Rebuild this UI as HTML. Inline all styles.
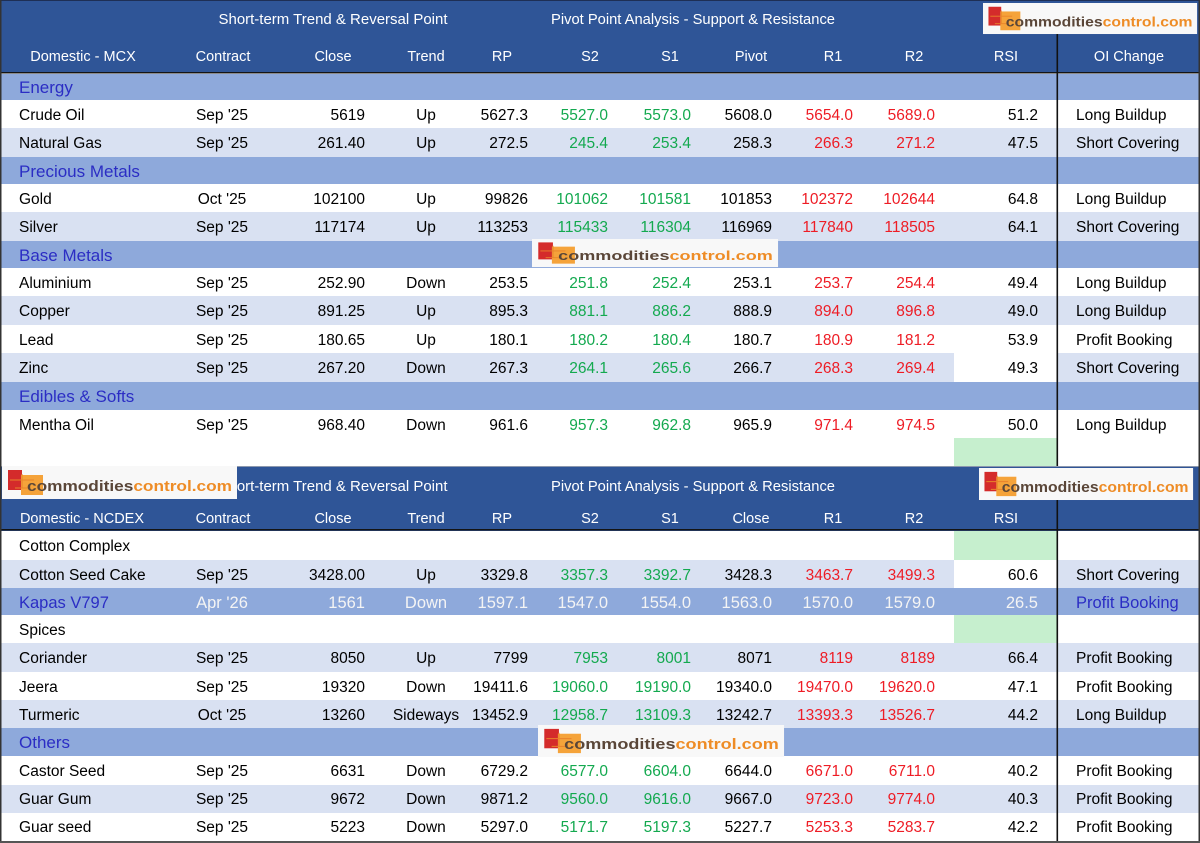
<!DOCTYPE html>
<html><head><meta charset="utf-8"><style>
html,body{margin:0;padding:0;background:#fff;}
svg{display:block;}
text{font-family:"Liberation Sans",sans-serif;font-size:15.5px;fill:#000;}
.m{text-anchor:middle}.e{text-anchor:end}
.g{fill:#13A94F}.rd{fill:#EE1C25}
.h{fill:#fff;font-size:14.5px}
.s{fill:#2B2DC4;font-size:17px}
.k{font-size:16.5px;fill:#F4F4F4}
.kb{font-size:16.5px;fill:#2B2DC4}
.lg{font-weight:bold;font-size:15px}
</style></head><body>
<svg width="1200" height="843" viewBox="0 0 1200 843" xmlns="http://www.w3.org/2000/svg">
<!-- backgrounds -->
<rect x="0" y="0" width="1200" height="843" fill="#fff"/>
<rect x="0" y="0" width="1200" height="73" fill="#2F5597"/>
<rect x="0" y="0" width="1200" height="1" fill="#1E2F55"/>
<rect x="0" y="72" width="1200" height="1.5" fill="#141414"/>
<rect x="0" y="74" width="1200" height="26" fill="#8EA9DB"/>
<rect x="0" y="128" width="1200" height="29" fill="#D9E1F2"/>
<rect x="0" y="157" width="1200" height="27" fill="#8EA9DB"/>
<rect x="0" y="212" width="1200" height="29" fill="#D9E1F2"/>
<rect x="0" y="241" width="1200" height="27" fill="#8EA9DB"/>
<rect x="0" y="296" width="1200" height="29" fill="#D9E1F2"/>
<rect x="0" y="353" width="1200" height="29" fill="#D9E1F2"/>
<rect x="954" y="353" width="103" height="29" fill="#fff"/>
<rect x="0" y="382" width="1200" height="28" fill="#8EA9DB"/>
<rect x="954" y="438" width="103" height="28" fill="#C6EFCE"/>
<rect x="0" y="466" width="1200" height="65" fill="#2F5597"/>
<rect x="0" y="466" width="1200" height="1" fill="#8C98AE"/>
<rect x="0" y="529" width="1200" height="1.5" fill="#141414"/>
<rect x="954" y="531" width="103" height="29" fill="#C6EFCE"/>
<rect x="0" y="560" width="1200" height="28" fill="#D9E1F2"/>
<rect x="954" y="560" width="103" height="28" fill="#fff"/>
<rect x="0" y="588" width="1200" height="27" fill="#8EA9DB"/>
<rect x="954" y="615" width="103" height="28" fill="#C6EFCE"/>
<rect x="0" y="643" width="1200" height="29" fill="#D9E1F2"/>
<rect x="0" y="700" width="1200" height="28" fill="#D9E1F2"/>
<rect x="0" y="728" width="1200" height="28" fill="#8EA9DB"/>
<rect x="0" y="785" width="1200" height="28" fill="#D9E1F2"/>
<!-- borders -->
<rect x="0" y="0" width="1.5" height="843" fill="#333"/>
<rect x="1198.5" y="0" width="1.5" height="843" fill="#333"/>
<rect x="0" y="841" width="1200" height="2" fill="#555"/>
<rect x="1056.5" y="34" width="1.6" height="432" fill="#111"/>
<rect x="1056.5" y="500" width="1.6" height="341" fill="#111"/>

<!-- header 1 -->
<text class="h m" x="333" y="24" textLength="229" lengthAdjust="spacingAndGlyphs">Short-term Trend &amp; Reversal Point</text>
<text class="h m" x="693" y="24" textLength="284" lengthAdjust="spacingAndGlyphs">Pivot Point Analysis - Support &amp; Resistance</text>
<text class="h m" x="83" y="61">Domestic - MCX</text>
<text class="h m" x="223" y="61">Contract</text>
<text class="h m" x="333" y="61">Close</text>
<text class="h m" x="426" y="61">Trend</text>
<text class="h m" x="502" y="61">RP</text>
<text class="h m" x="590" y="61">S2</text>
<text class="h m" x="670" y="61">S1</text>
<text class="h m" x="751" y="61">Pivot</text>
<text class="h m" x="833" y="61">R1</text>
<text class="h m" x="914" y="61">R2</text>
<text class="h m" x="1006" y="61">RSI</text>
<text class="h m" x="1129" y="61">OI Change</text>

<!-- Energy -->
<text class="s" x="19" y="93">Energy</text>
<text x="19" y="120">Crude Oil</text><text class="m" x="222" y="120">Sep '25</text><text class="e" x="365" y="120">5619</text><text class="m" x="426" y="120">Up</text><text class="e" x="528" y="120">5627.3</text><text class="e g" x="608" y="120">5527.0</text><text class="e g" x="691" y="120">5573.0</text><text class="e" x="772" y="120">5608.0</text><text class="e rd" x="853" y="120">5654.0</text><text class="e rd" x="935" y="120">5689.0</text><text class="e" x="1038" y="120">51.2</text><text x="1076" y="120">Long Buildup</text>
<text x="19" y="148">Natural Gas</text><text class="m" x="222" y="148">Sep '25</text><text class="e" x="365" y="148">261.40</text><text class="m" x="426" y="148">Up</text><text class="e" x="528" y="148">272.5</text><text class="e g" x="608" y="148">245.4</text><text class="e g" x="691" y="148">253.4</text><text class="e" x="772" y="148">258.3</text><text class="e rd" x="853" y="148">266.3</text><text class="e rd" x="935" y="148">271.2</text><text class="e" x="1038" y="148">47.5</text><text x="1076" y="148">Short Covering</text>
<!-- Precious -->
<text class="s" x="19" y="177">Precious Metals</text>
<text x="19" y="204">Gold</text><text class="m" x="222" y="204">Oct '25</text><text class="e" x="365" y="204">102100</text><text class="m" x="426" y="204">Up</text><text class="e" x="528" y="204">99826</text><text class="e g" x="608" y="204">101062</text><text class="e g" x="691" y="204">101581</text><text class="e" x="772" y="204">101853</text><text class="e rd" x="853" y="204">102372</text><text class="e rd" x="935" y="204">102644</text><text class="e" x="1038" y="204">64.8</text><text x="1076" y="204">Long Buildup</text>
<text x="19" y="232">Silver</text><text class="m" x="222" y="232">Sep '25</text><text class="e" x="365" y="232">117174</text><text class="m" x="426" y="232">Up</text><text class="e" x="528" y="232">113253</text><text class="e g" x="608" y="232">115433</text><text class="e g" x="691" y="232">116304</text><text class="e" x="772" y="232">116969</text><text class="e rd" x="853" y="232">117840</text><text class="e rd" x="935" y="232">118505</text><text class="e" x="1038" y="232">64.1</text><text x="1076" y="232">Short Covering</text>
<!-- Base -->
<text class="s" x="19" y="261">Base Metals</text>
<text x="19" y="288">Aluminium</text><text class="m" x="222" y="288">Sep '25</text><text class="e" x="365" y="288">252.90</text><text class="m" x="426" y="288">Down</text><text class="e" x="528" y="288">253.5</text><text class="e g" x="608" y="288">251.8</text><text class="e g" x="691" y="288">252.4</text><text class="e" x="772" y="288">253.1</text><text class="e rd" x="853" y="288">253.7</text><text class="e rd" x="935" y="288">254.4</text><text class="e" x="1038" y="288">49.4</text><text x="1076" y="288">Long Buildup</text>
<text x="19" y="316">Copper</text><text class="m" x="222" y="316">Sep '25</text><text class="e" x="365" y="316">891.25</text><text class="m" x="426" y="316">Up</text><text class="e" x="528" y="316">895.3</text><text class="e g" x="608" y="316">881.1</text><text class="e g" x="691" y="316">886.2</text><text class="e" x="772" y="316">888.9</text><text class="e rd" x="853" y="316">894.0</text><text class="e rd" x="935" y="316">896.8</text><text class="e" x="1038" y="316">49.0</text><text x="1076" y="316">Long Buildup</text>
<text x="19" y="345">Lead</text><text class="m" x="222" y="345">Sep '25</text><text class="e" x="365" y="345">180.65</text><text class="m" x="426" y="345">Up</text><text class="e" x="528" y="345">180.1</text><text class="e g" x="608" y="345">180.2</text><text class="e g" x="691" y="345">180.4</text><text class="e" x="772" y="345">180.7</text><text class="e rd" x="853" y="345">180.9</text><text class="e rd" x="935" y="345">181.2</text><text class="e" x="1038" y="345">53.9</text><text x="1076" y="345">Profit Booking</text>
<text x="19" y="373">Zinc</text><text class="m" x="222" y="373">Sep '25</text><text class="e" x="365" y="373">267.20</text><text class="m" x="426" y="373">Down</text><text class="e" x="528" y="373">267.3</text><text class="e g" x="608" y="373">264.1</text><text class="e g" x="691" y="373">265.6</text><text class="e" x="772" y="373">266.7</text><text class="e rd" x="853" y="373">268.3</text><text class="e rd" x="935" y="373">269.4</text><text class="e" x="1038" y="373">49.3</text><text x="1076" y="373">Short Covering</text>
<!-- Edibles -->
<text class="s" x="19" y="402">Edibles &amp; Softs</text>
<text x="19" y="430">Mentha Oil</text><text class="m" x="222" y="430">Sep '25</text><text class="e" x="365" y="430">968.40</text><text class="m" x="426" y="430">Down</text><text class="e" x="528" y="430">961.6</text><text class="e g" x="608" y="430">957.3</text><text class="e g" x="691" y="430">962.8</text><text class="e" x="772" y="430">965.9</text><text class="e rd" x="853" y="430">971.4</text><text class="e rd" x="935" y="430">974.5</text><text class="e" x="1038" y="430">50.0</text><text x="1076" y="430">Long Buildup</text>

<!-- header 2 -->
<text class="h m" x="333" y="491" textLength="229" lengthAdjust="spacingAndGlyphs">Short-term Trend &amp; Reversal Point</text>
<text class="h m" x="693" y="491" textLength="284" lengthAdjust="spacingAndGlyphs">Pivot Point Analysis - Support &amp; Resistance</text>
<text class="h m" x="82" y="523">Domestic - NCDEX</text>
<text class="h m" x="223" y="523">Contract</text>
<text class="h m" x="333" y="523">Close</text>
<text class="h m" x="426" y="523">Trend</text>
<text class="h m" x="502" y="523">RP</text>
<text class="h m" x="590" y="523">S2</text>
<text class="h m" x="670" y="523">S1</text>
<text class="h m" x="751" y="523">Close</text>
<text class="h m" x="833" y="523">R1</text>
<text class="h m" x="914" y="523">R2</text>
<text class="h m" x="1006" y="523">RSI</text>

<text x="19" y="551">Cotton Complex</text>
<text x="19" y="580">Cotton Seed Cake</text><text class="m" x="222" y="580">Sep '25</text><text class="e" x="365" y="580">3428.00</text><text class="m" x="426" y="580">Up</text><text class="e" x="528" y="580">3329.8</text><text class="e g" x="608" y="580">3357.3</text><text class="e g" x="691" y="580">3392.7</text><text class="e" x="772" y="580">3428.3</text><text class="e rd" x="853" y="580">3463.7</text><text class="e rd" x="935" y="580">3499.3</text><text class="e" x="1038" y="580">60.6</text><text x="1076" y="580">Short Covering</text>
<text class="kb" x="19" y="608">Kapas V797</text><text class="k m" x="222" y="608">Apr '26</text><text class="k e" x="365" y="608">1561</text><text class="k m" x="426" y="608">Down</text><text class="k e" x="528" y="608">1597.1</text><text class="k e" x="608" y="608">1547.0</text><text class="k e" x="691" y="608">1554.0</text><text class="k e" x="772" y="608">1563.0</text><text class="k e" x="853" y="608">1570.0</text><text class="k e" x="935" y="608">1579.0</text><text class="k e" x="1038" y="608">26.5</text><text class="kb" x="1076" y="608">Profit Booking</text>
<text x="19" y="635">Spices</text>
<text x="19" y="663">Coriander</text><text class="m" x="222" y="663">Sep '25</text><text class="e" x="365" y="663">8050</text><text class="m" x="426" y="663">Up</text><text class="e" x="528" y="663">7799</text><text class="e g" x="608" y="663">7953</text><text class="e g" x="691" y="663">8001</text><text class="e" x="772" y="663">8071</text><text class="e rd" x="853" y="663">8119</text><text class="e rd" x="935" y="663">8189</text><text class="e" x="1038" y="663">66.4</text><text x="1076" y="663">Profit Booking</text>
<text x="19" y="692">Jeera</text><text class="m" x="222" y="692">Sep '25</text><text class="e" x="365" y="692">19320</text><text class="m" x="426" y="692">Down</text><text class="e" x="528" y="692">19411.6</text><text class="e g" x="608" y="692">19060.0</text><text class="e g" x="691" y="692">19190.0</text><text class="e" x="772" y="692">19340.0</text><text class="e rd" x="853" y="692">19470.0</text><text class="e rd" x="935" y="692">19620.0</text><text class="e" x="1038" y="692">47.1</text><text x="1076" y="692">Profit Booking</text>
<text x="19" y="720">Turmeric</text><text class="m" x="222" y="720">Oct '25</text><text class="e" x="365" y="720">13260</text><text class="m" x="426" y="720">Sideways</text><text class="e" x="528" y="720">13452.9</text><text class="e g" x="608" y="720">12958.7</text><text class="e g" x="691" y="720">13109.3</text><text class="e" x="772" y="720">13242.7</text><text class="e rd" x="853" y="720">13393.3</text><text class="e rd" x="935" y="720">13526.7</text><text class="e" x="1038" y="720">44.2</text><text x="1076" y="720">Long Buildup</text>
<text class="s" x="19" y="748">Others</text>
<text x="19" y="776">Castor Seed</text><text class="m" x="222" y="776">Sep '25</text><text class="e" x="365" y="776">6631</text><text class="m" x="426" y="776">Down</text><text class="e" x="528" y="776">6729.2</text><text class="e g" x="608" y="776">6577.0</text><text class="e g" x="691" y="776">6604.0</text><text class="e" x="772" y="776">6644.0</text><text class="e rd" x="853" y="776">6671.0</text><text class="e rd" x="935" y="776">6711.0</text><text class="e" x="1038" y="776">40.2</text><text x="1076" y="776">Profit Booking</text>
<text x="19" y="804">Guar Gum</text><text class="m" x="222" y="804">Sep '25</text><text class="e" x="365" y="804">9672</text><text class="m" x="426" y="804">Down</text><text class="e" x="528" y="804">9871.2</text><text class="e g" x="608" y="804">9560.0</text><text class="e g" x="691" y="804">9616.0</text><text class="e" x="772" y="804">9667.0</text><text class="e rd" x="853" y="804">9723.0</text><text class="e rd" x="935" y="804">9774.0</text><text class="e" x="1038" y="804">40.3</text><text x="1076" y="804">Profit Booking</text>
<text x="19" y="832">Guar seed</text><text class="m" x="222" y="832">Sep '25</text><text class="e" x="365" y="832">5223</text><text class="m" x="426" y="832">Down</text><text class="e" x="528" y="832">5297.0</text><text class="e g" x="608" y="832">5171.7</text><text class="e g" x="691" y="832">5197.3</text><text class="e" x="772" y="832">5227.7</text><text class="e rd" x="853" y="832">5253.3</text><text class="e rd" x="935" y="832">5283.7</text><text class="e" x="1038" y="832">42.2</text><text x="1076" y="832">Profit Booking</text>

<!-- logos -->
<g transform="translate(983,3) scale(0.911,0.94)">
<rect width="235" height="33" fill="#F8F8F8"/>
<rect x="6" y="4" width="14" height="20" fill="#D42B2B"/>
<rect x="19" y="9" width="22" height="20" fill="#F5A33A"/>
<path d="M8 14h24M20 8v14M13 22h14" stroke="#E9832A" stroke-width="1" fill="none"/>
<text class="lg" x="25" y="25" textLength="205" lengthAdjust="spacingAndGlyphs"><tspan fill="#5A4638">commodities</tspan><tspan fill="#EE8C26">control.com</tspan></text>
</g>
<g transform="translate(532,239) scale(1.047,0.85)">
<rect width="235" height="33" fill="#F8F8F8"/>
<rect x="6" y="4" width="14" height="20" fill="#D42B2B"/>
<rect x="19" y="9" width="22" height="20" fill="#F5A33A"/>
<path d="M8 14h24M20 8v14M13 22h14" stroke="#E9832A" stroke-width="1" fill="none"/>
<text class="lg" x="25" y="25" textLength="205" lengthAdjust="spacingAndGlyphs"><tspan fill="#5A4638">commodities</tspan><tspan fill="#EE8C26">control.com</tspan></text>
</g>
<g transform="translate(2,466)">
<rect width="235" height="33" fill="#F8F8F8"/>
<rect x="6" y="4" width="14" height="20" fill="#D42B2B"/>
<rect x="19" y="9" width="22" height="20" fill="#F5A33A"/>
<path d="M8 14h24M20 8v14M13 22h14" stroke="#E9832A" stroke-width="1" fill="none"/>
<text class="lg" x="25" y="25" textLength="205" lengthAdjust="spacingAndGlyphs"><tspan fill="#5A4638">commodities</tspan><tspan fill="#EE8C26">control.com</tspan></text>
</g>
<g transform="translate(979,468) scale(0.911,0.97)">
<rect width="235" height="33" fill="#F8F8F8"/>
<rect x="6" y="4" width="14" height="20" fill="#D42B2B"/>
<rect x="19" y="9" width="22" height="20" fill="#F5A33A"/>
<path d="M8 14h24M20 8v14M13 22h14" stroke="#E9832A" stroke-width="1" fill="none"/>
<text class="lg" x="25" y="25" textLength="205" lengthAdjust="spacingAndGlyphs"><tspan fill="#5A4638">commodities</tspan><tspan fill="#EE8C26">control.com</tspan></text>
</g>
<g transform="translate(538,725) scale(1.047,0.97)">
<rect width="235" height="33" fill="#F8F8F8"/>
<rect x="6" y="4" width="14" height="20" fill="#D42B2B"/>
<rect x="19" y="9" width="22" height="20" fill="#F5A33A"/>
<path d="M8 14h24M20 8v14M13 22h14" stroke="#E9832A" stroke-width="1" fill="none"/>
<text class="lg" x="25" y="25" textLength="205" lengthAdjust="spacingAndGlyphs"><tspan fill="#5A4638">commodities</tspan><tspan fill="#EE8C26">control.com</tspan></text>
</g>
</svg>
</body></html>
